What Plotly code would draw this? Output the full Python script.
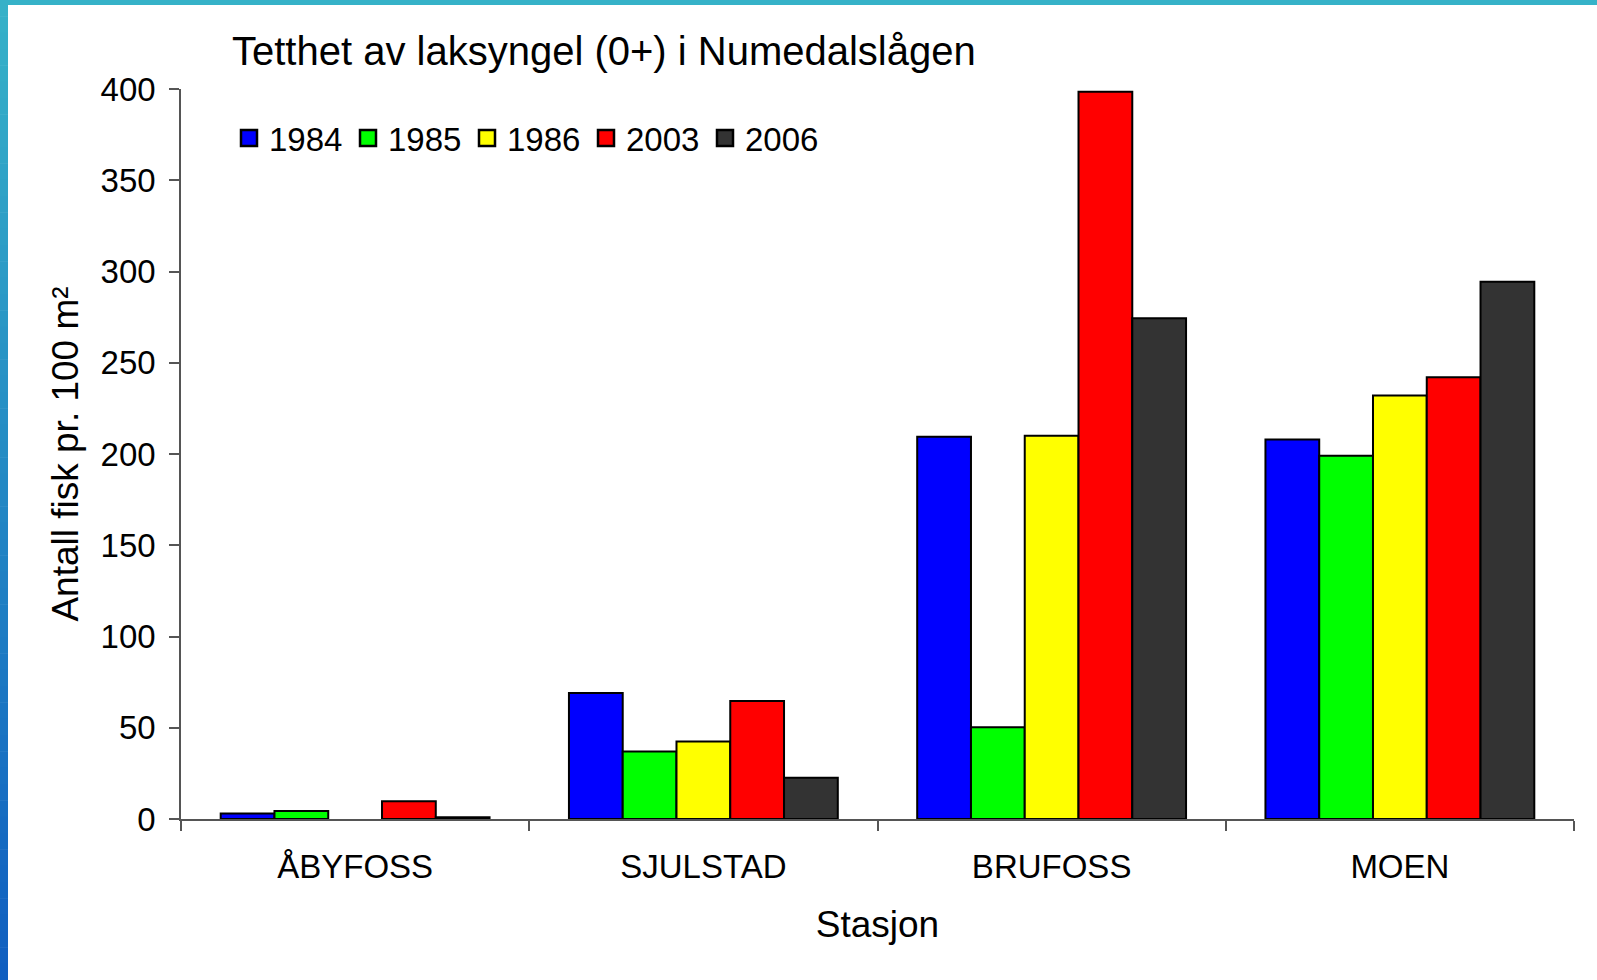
import plotly.graph_objects as go

stations = ["ÅBYFOSS", "SJULSTAD", "BRUFOSS", "MOEN"]
years = ["1984", "1985", "1986", "2003", "2006"]
v1984 = [3, 69, 209.5, 208]
v1985 = [4.4, 37, 50.3, 199]
v1986 = [None, 42.4, 210, 232]
v2003 = [9.7, 64.7, 398.5, 242]
v2006 = [1, 22.6, 274.4, 294.4]
series = [v1984, v1985, v1986, v2003, v2006]
colors = ["#0000FF", "#00FF00", "#FFFF00", "#FF0000", "#333333"]

W, H = 1597, 980
L, R, T, B = 181, 1574, 89, 819  # plot area in pixels
pw, ph = R - L, B - T

def px(x):
    return (x - L) / pw

def py(y):
    return (B - y) / ph

FONT = "Arial, 'Liberation Sans', sans-serif"

fig = go.Figure()
for name, vals, col in zip(years, series, colors):
    fig.add_trace(go.Bar(
        x=stations, y=vals, name=name, showlegend=False, legendgroup=name,
        marker=dict(color=col, line=dict(color="black", width=2)),
    ))
# legend entries with larger square keys
for name, col in zip(years, colors):
    fig.add_trace(go.Scatter(
        x=[None], y=[None], mode="markers", name=name, legendgroup=name,
        marker=dict(symbol="square", size=16, color=col, line=dict(color="black", width=2.5)),
    ))

# decorative frame: top cyan strip and left gradient strip
shapes = [dict(type="rect", xref="paper", yref="paper",
               x0=px(0), x1=px(W), y0=py(0), y1=py(5),
               fillcolor="#36b2c8", line=dict(width=0), layer="above")]
c0 = (54, 178, 200)
c1 = (16, 94, 192)
n = 60
for i in range(n):
    t = (i + 0.5) / n
    c = tuple(round(a + (b - a) * t) for a, b in zip(c0, c1))
    y0 = H * i / n
    y1 = H * (i + 1) / n + 0.5
    shapes.append(dict(type="rect", xref="paper", yref="paper",
                       x0=px(0), x1=px(8), y0=py(y0), y1=py(y1),
                       fillcolor="rgb(%d,%d,%d)" % c, line=dict(width=0), layer="above"))

fig.update_layout(
    width=W, height=H,
    margin=dict(l=L, r=W - R, t=T, b=H - B),
    paper_bgcolor="white", plot_bgcolor="white",
    font=dict(family=FONT, size=33, color="black"),
    barmode="group", bargap=0.228, bargroupgap=0,
    title=dict(text="Tetthet av laksyngel (0+) i Numedalslågen",
               font=dict(size=40, family=FONT, color="black"),
               xref="paper", x=px(232), xanchor="left",
               yref="container", y=1 - 51 / H, yanchor="middle"),
    legend=dict(orientation="h", x=px(229), xanchor="left",
                y=py(138), yanchor="middle",
                font=dict(size=33, family=FONT),
                entrywidth=74, entrywidthmode="pixels",
                itemsizing="trace",
                bgcolor="rgba(0,0,0,0)", borderwidth=0,
                itemclick=False, itemdoubleclick=False),
    xaxis=dict(range=[-0.5, 3.5], showline=True, linecolor="#555555", linewidth=1.5,
               ticks="outside", tickson="boundaries", ticklen=10, tickcolor="#555555",
               tickwidth=1.5, showgrid=False, zeroline=False,
               tickfont=dict(size=33, family=FONT), ticklabelstandoff=18,
               title=dict(text="Stasjon", font=dict(size=37, family=FONT), standoff=27)),
    yaxis=dict(range=[0, 400], dtick=50, showline=True, linecolor="#555555", linewidth=1.5,
               ticks="outside", ticklen=10, tickcolor="#555555", tickwidth=1.5,
               showgrid=False, zeroline=False,
               tickfont=dict(size=33, family=FONT), ticklabelstandoff=7,
               title=dict(text="Antall fisk pr. 100 m²", font=dict(size=37, family=FONT), standoff=11)),
    shapes=shapes,
)

fig.write_html("out.html", config={"displayModeBar": False},
               post_script="document.body.style.margin='0';document.body.style.overflow='hidden';")
